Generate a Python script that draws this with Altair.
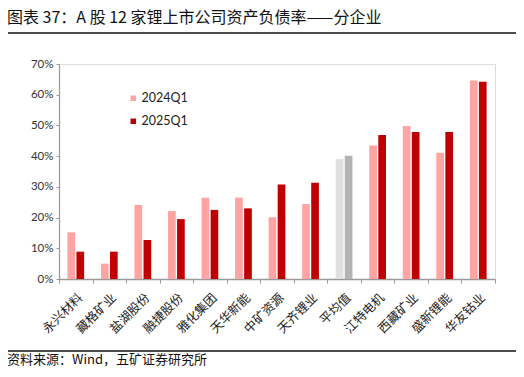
import altair as alt
import pandas as pd

categories = ["永兴材料", "藏格矿业", "盐湖股份", "融捷股份", "雅化集团", "天华新能", "中矿资源",
              "天齐锂业", "平均值", "江特电机", "西藏矿业", "盛新锂能", "华友钴业"]
v2024 = [15.2, 5.0, 24.1, 22.1, 26.5, 26.5, 20.1, 24.4, 39.1, 43.5, 49.8, 41.1, 64.6]
v2025 = [8.9, 8.9, 12.7, 19.5, 22.5, 23.0, 30.8, 31.3, 40.1, 46.9, 47.9, 47.9, 64.2]
series = ["2024Q1", "2025Q1"]
title_text = "图表 37：A 股 12 家锂上市公司资产负债率——分企业"
source_text = "资料来源：Wind，五矿证券研究所"

rows = []
for c, a, b in zip(categories, v2024, v2025):
    avg = c == "平均值"
    rows.append({"cat": c, "series": "2024Q1", "val": a / 100, "key": "avg2024" if avg else "2024Q1"})
    rows.append({"cat": c, "series": "2025Q1", "val": b / 100, "key": "avg2025" if avg else "2025Q1"})
df = pd.DataFrame(rows)

FONT = "Lato, 'Noto Sans CJK SC', sans-serif"
CJK = "'Noto Sans CJK SC', sans-serif"

W, H = 436, 215

bars = alt.Chart(df).mark_bar(size=7.7).encode(
    x=alt.X("cat:N", sort=categories, title=None,
            scale=alt.Scale(paddingInner=0, paddingOuter=0),
            axis=alt.Axis(labelAngle=-45, labelFont=CJK, labelFontSize=12.5, labelColor="#222",
                          labelAlign="right", labelBaseline="top", labelPadding=8,
                          tickBand="extent", tickSize=4, tickColor="#999", domainColor="#999",
                          domainWidth=1.5, labelOffset=0)),
    xOffset=alt.XOffset("series:N", sort=series,
                        scale=alt.Scale(paddingInner=0.15, paddingOuter=0.93)),
    y=alt.Y("val:Q", title=None,
            scale=alt.Scale(domain=[0, 0.7]),
            axis=alt.Axis(format=".0%", values=[0, 0.1, 0.2, 0.3, 0.4, 0.5, 0.6, 0.7],
                          grid=False, labelFont=FONT, labelFontSize=11.5, labelColor="#333",
                          tickSize=3, tickColor="#999", domainColor="#999", domainWidth=1.2,
                          labelPadding=3)),
    color=alt.Color("key:N",
                    scale=alt.Scale(domain=["2024Q1", "2025Q1", "avg2024", "avg2025"],
                                    range=["#FFA3A3", "#C00000", "#E0E0E0", "#B3B3B3"]),
                    legend=alt.Legend(values=["2024Q1", "2025Q1"], title=None, orient="none",
                                      legendX=68, legendY=28, symbolType="square", symbolSize=30,
                                      labelFont=FONT, labelFontSize=12.5, labelColor="#222",
                                      rowPadding=10, symbolOffset=0, labelOffset=2)),
)

title = alt.Chart(pd.DataFrame({"t": [title_text]})).mark_text(
    align="left", baseline="middle", font=CJK, fontSize=16, color="#111"
).encode(x=alt.value(-52), y=alt.value(-46), text="t:N")

source = alt.Chart(pd.DataFrame({"t": [source_text]})).mark_text(
    align="left", baseline="middle", font=CJK, fontSize=13, color="#111"
).encode(x=alt.value(-52), y=alt.value(296), text="t:N")

line_top = alt.Chart(pd.DataFrame({"a": [0]})).mark_rule(color="#111", strokeWidth=1.5).encode(
    x=alt.value(-54), x2=alt.value(458), y=alt.value(-31))
line_bot = alt.Chart(pd.DataFrame({"a": [0]})).mark_rule(color="#111", strokeWidth=1.5).encode(
    x=alt.value(-54), x2=alt.value(458), y=alt.value(287))

chart = alt.layer(bars, title, source, line_top, line_bot).properties(
    width=W, height=H,
    autosize=alt.AutoSizeParams(type="none"),
    padding={"left": 51, "top": 56, "right": 21, "bottom": 90},
).configure_view(stroke=None).configure(background="white")

chart.save("out.html", embed_options={"renderer": "svg", "actions": False})
